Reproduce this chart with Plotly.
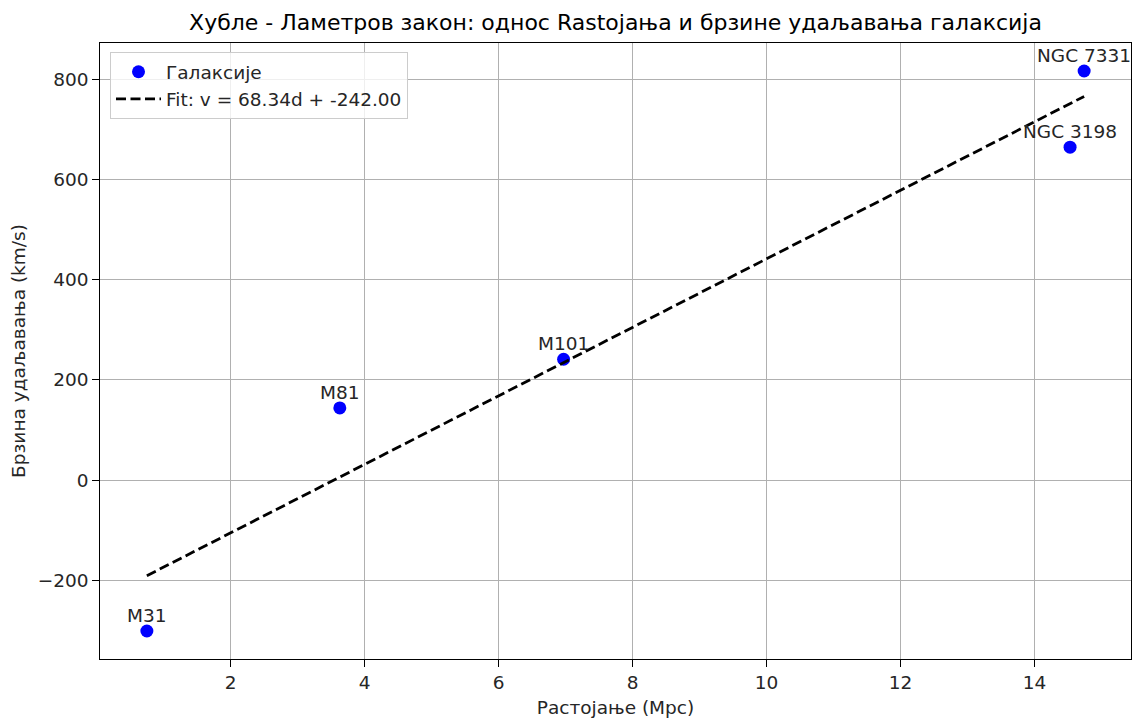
import plotly.graph_objects as go

galaxies = ["M31", "M81", "M101", "NGC 3198", "NGC 7331"]
distance_mpc = [0.75, 3.63, 6.97, 14.53, 14.74]
velocity_kms = [-301, 144, 241, 664, 816]
fit_slope = 68.34
fit_intercept = -242.00
x_ticks = [2, 4, 6, 8, 10, 12, 14]
y_ticks = [-200, 0, 200, 400, 600, 800]

font = "DejaVu Sans"
txt = "#262626"
fs = 18.5

fit_x = [min(distance_mpc), max(distance_mpc)]
fit_y = [fit_slope * d + fit_intercept for d in fit_x]

fig = go.Figure()
fig.add_trace(go.Scatter(
    x=distance_mpc, y=velocity_kms, mode="markers", name="Галаксије",
    marker=dict(color="blue", size=13),
))
fig.add_trace(go.Scatter(
    x=fit_x, y=fit_y, mode="lines",
    name=f"Fit: v = {fit_slope:.2f}d + {fit_intercept:.2f}",
    line=dict(color="black", dash="10px,4.5px", width=2.8),
))

for name, d, v in zip(galaxies, distance_mpc, velocity_kms):
    fig.add_annotation(x=d, y=v, text=name, showarrow=False,
                       yanchor="bottom", xanchor="center", yshift=3,
                       font=dict(family=font, size=fs, color=txt))

dx = max(distance_mpc) - min(distance_mpc)
dy = max(velocity_kms) - min(velocity_kms)
axis_common = dict(
    showline=True, linecolor="black", linewidth=1.3, mirror=True,
    ticks="outside", ticklen=6.5, tickcolor="black", tickwidth=1.3,
    showgrid=True, gridcolor="#b0b0b0", gridwidth=1.1, zeroline=False,
    tickfont=dict(family=font, size=fs, color=txt), automargin=False,
)
fig.update_xaxes(
    range=[min(distance_mpc) - 0.05 * dx, max(distance_mpc) + 0.05 * dx],
    tickvals=x_ticks,
    title=dict(text="Растојање (Mpc)", font=dict(family=font, size=fs, color=txt), standoff=10),
    **axis_common,
)
fig.update_yaxes(
    range=[min(velocity_kms) - 0.05 * dy, max(velocity_kms) + 0.05 * dy],
    tickvals=y_ticks, ticktext=[str(t).replace("-", "−") for t in y_ticks],
    title=dict(text="Брзина удаљавања (km/s)", font=dict(family=font, size=fs, color=txt), standoff=28),
    **axis_common,
)
fig.update_layout(
    width=1137, height=710,
    margin=dict(l=92, r=14, t=35, b=59),
    paper_bgcolor="white", plot_bgcolor="white",
    title=dict(text="Хубле - Ламетров закон: однос Rastojaња и брзине удаљавања галаксија",
               x=(92 + 1031 / 2) / 1137, xanchor="center", y=0.98, yanchor="middle",
               font=dict(family=font, size=22, color="black")),
    legend=dict(x=0.0097, y=0.985, xanchor="left", yanchor="top",
                bgcolor="rgba(255,255,255,0.8)", bordercolor="#cccccc", borderwidth=1,
                itemwidth=45,
                font=dict(family=font, size=fs, color=txt)),
    showlegend=True,
)

fig.write_html("out.html")
